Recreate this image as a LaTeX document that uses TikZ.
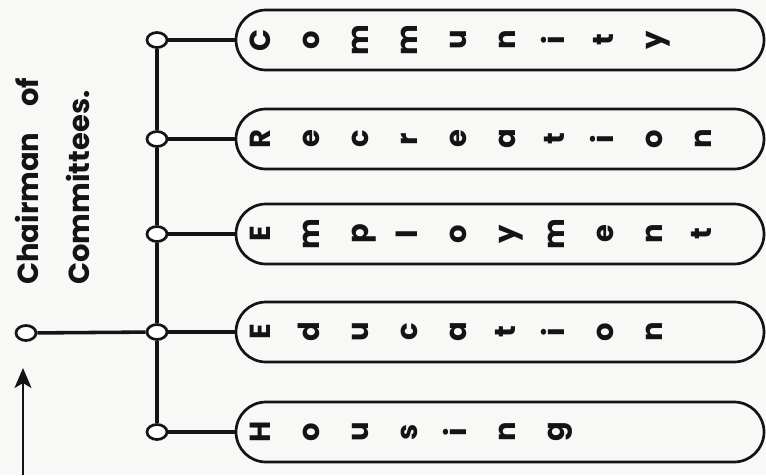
\documentclass[tikz,border=0pt]{standalone}
\usepackage{fontspec}
\setmainfont{Poppins}
\usetikzlibrary{arrows.meta,shapes.geometric,shapes.misc,positioning}
\definecolor{cmInk}{HTML}{141414}
\definecolor{cmPaper}{HTML}{F8F8F6}
\tikzset{
  cm canvas/.style={fill=cmPaper},
  cm pill/.style={
    draw=cmInk,
    line width=.95mm,
    rounded rectangle,
    minimum width=528pt,
    minimum height=60pt,
    inner sep=0pt
  },
  cm joint/.style={
    ellipse,
    draw=cmInk,
    fill=white,
    line width=.95mm,
    minimum width=20pt,
    minimum height=15pt,
    inner sep=0pt
  },
  cm link/.style={draw=cmInk, line width=1.25mm},
  cm arrow/.style={
    draw=cmInk,
    line width=.75mm,
    -{Stealth[length=20pt,width=17pt,inset=5pt]}
  },
  cm letter/.style={
    font=\bfseries\fontsize{29}{29}\selectfont,
    text=cmInk,
    rotate=90,
    inner sep=0pt,
    text height=1ex,
    text depth=0pt
  },
  cm title/.style={
    font=\bfseries\fontsize{29}{29}\selectfont,
    text=cmInk,
    rotate=90,
    inner sep=0pt,
    anchor=base west
  }
}
\begin{document}
\begin{tikzpicture}[x=1pt,y=-1pt]
  \path[cm canvas] (0,0) rectangle (766,475);
  \useasboundingbox (0,0) rectangle (766,475);

  \node[cm title] (chairman) at (38,285) {Chairman\hspace{.9em}of};
  \node[cm title] (committees) at (89,285) {Committees.};

  \node[cm joint] (root) at (26,333) {};
  \foreach \name/\y/\word [count=\i] in {
      community/40/{C,o,m,m,u,n,i,t,y},
      recreation/139/{R,e,c,r,e,a,t,i,o,n},
      employment/234/{E,m,p,l,o,y,m,e,n,t},
      education/332/{E,d,u,c,a,t,i,o,n},
      housing/432/{H,o,u,s,i,n,g}} {
    \node[cm joint] (j\i) at (157,\y) {};
    \node[cm pill] (\name) at (500,\y) {};
    \foreach \c [count=\k from 0] in \word {
      \node[cm letter] (\name\k) at ({268+49*\k},\y) {\c};
    }
    \draw[cm link] (j\i) -- (\name);
  }
  \foreach \i [evaluate=\i as \n using int(\i+1)] in {1,...,4} {
    \draw[cm link] (j\i) -- (j\n);
  }
  \draw[cm link] (root) -- (j4);

  \coordinate (arrow tail) at (23,475);
  \coordinate (arrow tip) at (23,368);
  \draw[cm arrow] (arrow tail) -- (arrow tip);
\end{tikzpicture}
\end{document}
